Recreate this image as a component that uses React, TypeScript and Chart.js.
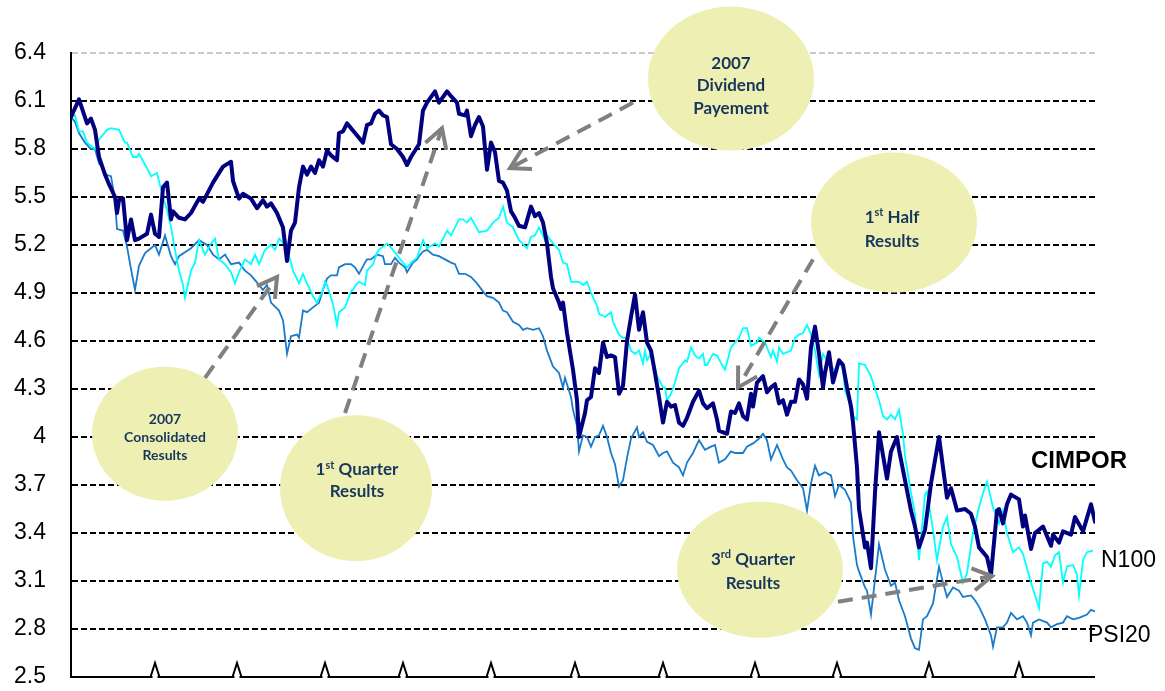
import { useEffect, useRef } from "react";
import { Chart, registerables } from "chart.js";

Chart.register(...registerables);

// ---------- DATA ----------
const yTicks = [2.5, 2.8, 3.1, 3.4, 3.7, 4, 4.3, 4.6, 4.9, 5.2, 5.5, 5.8, 6.1, 6.4];
// trading-day positions of the month separators on the x axis
const monthTickDays = [21, 41.5, 63.5, 83, 105, 126, 148, 171, 191.5, 214.5, 237];

const cimporDays = [
  0, 2, 4, 5, 6, 7, 8.5, 9.5, 11, 11.5,
  12, 13, 14, 15, 16, 17, 19, 20, 21, 22,
  23, 24, 25, 25.5, 27, 28.5, 30, 32, 33, 35.5,
  38, 40, 40.5, 42, 43, 45, 46.5, 48, 49, 50,
  51.5, 53, 54, 55, 56, 57, 58, 59, 60, 61,
  62, 63, 64, 65, 66.5, 67, 68, 69, 71, 73,
  74, 75, 76, 77, 78, 79, 80, 81.5, 83, 84,
  85, 87, 88, 89, 91, 92, 94, 95, 96.5, 97,
  98.5, 99, 100, 101, 102, 103, 104, 105, 106, 107,
  108, 109, 110, 111, 112, 113.5, 115, 116, 117, 118,
  119, 120, 120.5, 122, 122.5, 123, 124, 125.5, 126.5, 127,
  128.5, 129, 130, 131, 132, 133, 134, 135, 136, 137,
  138, 139, 140, 141, 142, 143, 144, 145, 146, 147,
  148, 149, 150, 151, 152, 153, 154, 155.5, 157, 158,
  159, 160.5, 161.5, 162, 164, 165, 166, 167, 168, 169,
  170, 170.5, 171.5, 173, 174, 175, 176, 177, 178, 179,
  180, 181, 182, 183, 184, 185, 186, 187, 188, 188.5,
  189.5, 190.5, 192, 193, 194, 195, 195.5, 196.5, 197, 198.5,
  199, 200, 201, 202, 204, 205, 206.5, 207, 210, 211,
  212, 213.5, 215, 217, 218, 219, 220, 221.5, 223.5, 225,
  226, 227, 229, 230, 231.5, 232, 233, 234, 235, 237,
  238, 238.5, 240, 241, 243, 245, 245.5, 247, 248, 250,
  251, 253, 255, 256,
];
const cimporValues = [
  6.0, 6.11, 5.96, 5.99, 5.92, 5.75, 5.64, 5.58, 5.5, 5.4,
  5.48, 5.49, 5.23, 5.36, 5.23, 5.24, 5.27, 5.39, 5.27, 5.25,
  5.56, 5.59, 5.36, 5.41, 5.37, 5.36, 5.4, 5.49, 5.47, 5.59,
  5.69, 5.72, 5.6, 5.49, 5.52, 5.49, 5.43, 5.48, 5.44, 5.46,
  5.4, 5.31, 5.1, 5.29, 5.34, 5.56, 5.69, 5.64, 5.69, 5.65,
  5.73, 5.69, 5.79, 5.76, 5.73, 5.9, 5.91, 5.96, 5.9, 5.84,
  5.95, 5.96, 6.02, 6.04, 6.01, 6.0, 5.83, 5.8, 5.75, 5.7,
  5.75, 5.83, 6.04, 6.09, 6.16, 6.09, 6.16, 6.13, 6.09, 6.02,
  6.01, 6.04, 5.88, 5.95, 6.0, 5.94, 5.67, 5.84, 5.78, 5.6,
  5.59, 5.54, 5.41, 5.37, 5.32, 5.31, 5.44, 5.38, 5.4, 5.34,
  5.21, 5.0, 4.93, 4.84, 4.8, 4.84, 4.65, 4.42, 4.23, 4.0,
  4.15, 4.23, 4.25, 4.43, 4.4, 4.59, 4.5, 4.51, 4.5, 4.27,
  4.32, 4.6, 4.75, 4.89, 4.67, 4.78, 4.59, 4.54, 4.4, 4.25,
  4.09, 4.22, 4.19, 4.2, 4.09, 4.07, 4.12, 4.22, 4.29, 4.21,
  4.18, 4.21, 4.11, 4.04, 4.02, 4.16, 4.15, 4.21, 4.13, 4.11,
  4.27, 4.19, 4.34, 4.38, 4.28, 4.31, 4.33, 4.21, 4.23, 4.14,
  4.22, 4.22, 4.36, 4.33, 4.24, 4.56, 4.69, 4.52, 4.31, 4.4,
  4.53, 4.34, 4.48, 4.45, 4.31, 4.19, 4.09, 3.81, 3.55, 3.31,
  3.34, 3.18, 3.65, 4.03, 3.74, 3.91, 4.0, 3.92, 3.54, 3.44,
  3.31, 3.42, 3.71, 4.0, 3.81, 3.62, 3.68, 3.54, 3.55, 3.52,
  3.44, 3.31, 3.25, 3.14, 3.54, 3.55, 3.46, 3.58, 3.64, 3.61,
  3.44, 3.51, 3.3, 3.4, 3.44, 3.32, 3.39, 3.34, 3.41, 3.39,
  3.5, 3.41, 3.58, 3.47,
];

const n100Days = [
  0, 1, 2, 3, 4, 6, 7, 9, 10, 12,
  13.5, 14, 15.5, 16.5, 17, 19, 20, 21.5, 23, 24,
  25, 26, 27, 28, 28.5, 30, 31, 32, 33.5, 35,
  36, 37, 38.5, 40, 41, 42, 43.5, 45, 46, 47,
  48.5, 50, 51, 52, 53.5, 55, 55.5, 57, 58, 59,
  60.5, 61.5, 63, 63.5, 64, 65.5, 66.5, 67, 68.5, 70,
  70.5, 71.5, 72, 73.5, 74, 75.5, 76.5, 77, 79, 80.5,
  82, 84, 85, 86.5, 88, 89, 91, 92, 94, 95,
  97, 98, 99, 100, 102, 104, 105.5, 107, 108, 109,
  110.5, 112, 114, 115, 116, 117, 118.5, 119, 120.5, 122,
  123, 124, 125, 127, 128, 129, 130, 131.5, 132, 133.5,
  135, 135.5, 137, 138, 139, 140, 141, 142, 143, 143.5,
  144, 145, 146.5, 148, 148.5, 149, 150, 151, 152, 153.5,
  154, 155, 156, 157, 158, 158.5, 159, 160.5, 161.5, 163,
  163.5, 165, 166, 167, 168, 169, 170, 171.5, 172, 173.5,
  175, 175.5, 176.5, 177, 178, 180, 181, 182, 183, 184,
  185, 186, 187, 188, 189, 190, 191, 192, 193, 193.5,
  195, 195.5, 196.5, 197, 198.5, 200, 201, 202, 203, 204,
  205, 206, 207, 208, 208.5, 210, 211, 212, 213.5, 214,
  215.5, 216.5, 218, 219, 220, 221.5, 223, 224, 225.5, 227,
  228, 229, 230.5, 232, 233, 234, 235.5, 237, 238, 239,
  240, 242, 243, 244, 245, 246, 247, 248, 249, 250.5,
  251.5, 252, 253, 254, 255.5,
];
const n100Values = [
  6.0, 6.01, 5.91, 5.91, 5.84, 5.8, 5.86, 5.92, 5.93, 5.92,
  5.84, 5.84, 5.75, 5.75, 5.77, 5.68, 5.63, 5.65, 5.5, 5.42,
  5.31, 5.17, 5.04, 4.95, 4.87, 5.04, 5.09, 5.23, 5.14, 5.21,
  5.24, 5.11, 5.08, 5.03, 4.96, 5.03, 5.11, 5.08, 5.14, 5.08,
  5.17, 5.2, 5.17, 5.24, 5.2, 5.09, 5.04, 4.96, 5.02, 4.96,
  4.88, 4.84, 4.92, 4.97, 4.95, 4.83, 4.7, 4.78, 4.81, 4.91,
  4.92, 4.96, 4.97, 4.95, 5.04, 5.08, 5.15, 5.17, 5.21, 5.17,
  5.12, 5.06, 5.09, 5.12, 5.23, 5.18, 5.21, 5.19, 5.29, 5.26,
  5.36, 5.36, 5.34, 5.37, 5.28, 5.29, 5.34, 5.37, 5.44, 5.34,
  5.31, 5.23, 5.18, 5.25, 5.26, 5.31, 5.23, 5.26, 5.21, 5.17,
  5.09, 5.08, 4.97, 4.97, 4.95, 4.97, 4.9, 4.82, 4.77, 4.75,
  4.78, 4.72, 4.64, 4.62, 4.62, 4.54, 4.52, 4.54, 4.46, 4.54,
  4.48, 4.52, 4.38, 4.31, 4.31, 4.23, 4.27, 4.34, 4.43, 4.48,
  4.47, 4.56, 4.51, 4.49, 4.52, 4.45, 4.45, 4.52, 4.51, 4.44,
  4.42, 4.56, 4.59, 4.62, 4.68, 4.68, 4.57, 4.59, 4.62, 4.59,
  4.5, 4.54, 4.47, 4.56, 4.52, 4.54, 4.62, 4.64, 4.65, 4.7,
  4.64, 4.54, 4.39, 4.52, 4.48, 4.45, 4.41, 4.48, 4.42, 4.29,
  4.19, 4.13, 4.11, 4.46, 4.45, 4.38, 4.3, 4.23, 4.13, 4.11,
  4.14, 4.11, 4.17, 4.02, 3.88, 3.65, 3.52, 3.23, 3.64, 3.66,
  3.42, 3.23, 3.44, 3.5, 3.33, 3.25, 3.09, 3.15, 3.4, 3.56,
  3.65, 3.72, 3.56, 3.46, 3.54, 3.4, 3.28, 3.31, 3.27, 3.18,
  3.09, 2.93, 3.21, 3.22, 3.19, 3.26, 3.28, 3.09, 3.19, 3.2,
  3.14, 3.01, 3.23, 3.28, 3.29,
];

const psi20Days = [
  0, 1, 2, 3.5, 5, 6, 7, 8, 8.5, 10,
  11, 11.5, 13, 14, 15, 16, 17, 18.5, 20, 21,
  22, 23.5, 25, 26, 27, 30, 32, 34, 35.5, 37,
  38.5, 40, 42, 43.5, 45, 46, 48, 49, 50, 52,
  53, 54, 55, 56.5, 57, 58, 59, 60.5, 62, 63,
  64, 65, 66.5, 67, 68.5, 70, 71, 72, 73.5, 74,
  75, 76.5, 78, 78.5, 80, 81, 82, 83.5, 84, 85.5,
  86.5, 87, 88, 89, 90.5, 92, 93.5, 95, 96, 97,
  98.5, 100, 101.5, 103, 104, 105.5, 107, 108, 109, 110.5,
  112, 113, 114, 115.5, 117, 118, 119, 120.5, 122, 123,
  123.5, 125, 125.5, 126.5, 127, 128, 129, 130, 131, 132,
  133, 134, 135, 136, 137, 138, 139, 140, 141.5, 142,
  143, 144, 145.5, 147, 148, 149, 150.5, 152, 153, 154,
  155.5, 157, 158.5, 160, 161, 162, 163.5, 165, 166, 168,
  169, 170.5, 172, 173, 174, 175, 176.5, 178, 179, 180,
  181.5, 183, 184, 185, 186, 187, 188.5, 190, 191, 192,
  193.5, 195, 195.5, 196.5, 197, 198.5, 199, 200, 201, 202,
  203.5, 205, 206, 207, 208.5, 210, 211, 212, 213, 214,
  215.5, 217, 218, 219, 220.5, 222, 223, 225, 226, 227,
  228.5, 230, 230.5, 231.5, 233, 234, 235, 236.5, 238, 239,
  240, 240.5, 242, 244, 245, 246.5, 248, 249, 250.5, 252,
  254, 255, 256,
];
const psi20Values = [
  6.0, 5.97, 5.9, 5.84, 5.8, 5.8, 5.71, 5.68, 5.64, 5.63,
  5.48, 5.3, 5.29, 5.19, 5.05, 4.92, 5.07, 5.15, 5.18, 5.2,
  5.14, 5.26, 5.13, 5.08, 5.13, 5.18, 5.23, 5.2, 5.14, 5.11,
  5.14, 5.08, 5.09, 5.04, 5.01, 4.98, 4.92, 4.95, 4.84, 4.79,
  4.73, 4.52, 4.63, 4.64, 4.62, 4.79, 4.78, 4.81, 4.84, 4.92,
  4.99, 5.01, 5.01, 5.06, 5.08, 5.08, 5.06, 5.02, 5.09, 5.11,
  5.11, 5.14, 5.13, 5.08, 5.08, 5.12, 5.09, 5.06, 5.03, 5.09,
  5.11, 5.13, 5.16, 5.17, 5.14, 5.13, 5.11, 5.09, 5.08, 5.02,
  5.02, 5.0, 4.96, 4.91, 4.88, 4.87, 4.84, 4.79, 4.78, 4.72,
  4.7, 4.67, 4.68, 4.67, 4.68, 4.63, 4.54, 4.44, 4.4, 4.31,
  4.37, 4.25, 4.17, 4.07, 3.91, 4.01, 4.0, 3.94, 4.0, 4.01,
  4.07, 4.0, 3.9, 3.83, 3.69, 3.73, 3.87, 3.99, 4.06, 4.0,
  4.03, 3.97, 3.95, 3.88, 3.9, 3.91, 3.84, 3.81, 3.76, 3.84,
  3.9, 3.98, 3.92, 3.94, 3.95, 3.84, 3.86, 3.91, 3.9, 3.9,
  3.94, 3.96, 3.99, 4.02, 3.98, 3.86, 3.95, 3.86, 3.81, 3.79,
  3.73, 3.68, 3.54, 3.71, 3.82, 3.76, 3.78, 3.76, 3.63, 3.7,
  3.67, 3.59, 3.38, 3.2, 3.16, 3.06, 3.04, 2.89, 3.11, 3.33,
  3.17, 3.07, 3.09, 2.98, 2.88, 2.74, 2.68, 2.67, 2.86, 2.88,
  2.96, 3.19, 3.09, 3.0, 3.06, 3.04, 3.0, 3.01, 2.98, 2.94,
  2.86, 2.76, 2.69, 2.81, 2.81, 2.84, 2.9, 2.86, 2.88, 2.84,
  2.76, 2.84, 2.86, 2.84, 2.81, 2.83, 2.84, 2.88, 2.86, 2.87,
  2.89, 2.92, 2.91,
];

// ---------- ANNOTATIONS ----------
type Part = { t: string; sup?: boolean };
type Bubble = {
  day: number; value: number; rx: number; ry: number; font: number;
  firstBaseline: number; lineGap: number; textDx: number; lines: Part[][];
};

const bubbles: Bubble[] = [
  { day: 165, value: 6.24, rx: 83, ry: 72, font: 17, firstBaseline: -10, lineGap: 22.5, textDx: 0,
    lines: [[{ t: "2007" }], [{ t: "Dividend" }], [{ t: "Payement" }]] },
  { day: 205.75, value: 5.34, rx: 83, ry: 70, font: 17, firstBaseline: 0, lineGap: 24, textDx: -2,
    lines: [[{ t: "1" }, { t: "st", sup: true }, { t: " Half" }], [{ t: "Results" }]] },
  { day: 23.5, value: 4.02, rx: 73, ry: 67, font: 14, firstBaseline: -10, lineGap: 18, textDx: 0,
    lines: [[{ t: "2007" }], [{ t: "Consolidated" }], [{ t: "Results" }]] },
  { day: 71.25, value: 3.68, rx: 76, ry: 73, font: 17, firstBaseline: -13, lineGap: 22, textDx: 1,
    lines: [[{ t: "1" }, { t: "st", sup: true }, { t: " Quarter" }], [{ t: "Results" }]] },
  { day: 172.25, value: 3.17, rx: 83, ry: 68, font: 17, firstBaseline: -5, lineGap: 24, textDx: -7,
    lines: [[{ t: "3" }, { t: "rd", sup: true }, { t: " Quarter" }], [{ t: "Results" }]] },
];

const arrows = [
  { from: [140.5, 6.09], to: [109.75, 5.68] },
  { from: [68.5, 4.15], to: [92.75, 5.93] },
  { from: [33.5, 4.37], to: [51.5, 5.0] },
  { from: [185.5, 5.11], to: [166.75, 4.31] },
  { from: [191.75, 2.97], to: [230.25, 3.13] },
];

const COLORS = {
  cimpor: "#000080",
  n100: "#00FFFF",
  psi20: "#1A7BCB",
  bubble: "#EEF0B3",
  bubbleText: "#17365D",
  arrow: "#808080",
};

const toPoints = (days: number[], values: number[]) =>
  days.map((d, i) => ({ x: d, y: values[i] }));

function drawRich(ctx: CanvasRenderingContext2D, parts: Part[], cx: number, baseline: number, size: number) {
  const fam = 'Lato, "Open Sans", "Noto Sans", sans-serif';
  const main = `bold ${size}px ${fam}`;
  const sup = `bold ${Math.round(size * 0.62)}px ${fam}`;
  let total = 0;
  const widths = parts.map((p) => {
    ctx.font = p.sup ? sup : main;
    const w = ctx.measureText(p.t).width;
    total += w;
    return w;
  });
  let x = cx - total / 2;
  parts.forEach((p, i) => {
    ctx.font = p.sup ? sup : main;
    ctx.fillText(p.t, x, p.sup ? baseline - size * 0.38 : baseline);
    x += widths[i];
  });
}

const annotationPlugin = {
  id: "annotations",
  beforeDatasetsDraw(chart: any) {
    // x axis base line (drawn manually; the x scale itself is hidden)
    const { ctx, chartArea } = chart;
    ctx.save();
    ctx.strokeStyle = "#000";
    ctx.lineWidth = 2;
    ctx.beginPath();
    ctx.moveTo(chartArea.left - 1, chartArea.bottom);
    ctx.lineTo(chartArea.right, chartArea.bottom);
    ctx.stroke();
    ctx.restore();
  },
  afterDatasetsDraw(chart: any) {
    const { ctx, chartArea } = chart;
    const xs = chart.scales.x;
    const ys = chart.scales.y;
    ctx.save();
    // bubbles
    for (const b of bubbles) {
      const cx = xs.getPixelForValue(b.day);
      const cy = ys.getPixelForValue(b.value);
      ctx.beginPath();
      ctx.ellipse(cx, cy, b.rx, b.ry, 0, 0, Math.PI * 2);
      ctx.fillStyle = COLORS.bubble;
      ctx.fill();
      ctx.fillStyle = COLORS.bubbleText;
      ctx.textAlign = "left";
      ctx.textBaseline = "alphabetic";
      b.lines.forEach((line, i) =>
        drawRich(ctx, line, cx + b.textDx, cy + b.firstBaseline + i * b.lineGap, b.font)
      );
    }
    // arrows
    ctx.strokeStyle = COLORS.arrow;
    ctx.lineWidth = 4;
    for (const a of arrows) {
      const x1 = xs.getPixelForValue(a.from[0]);
      const y1 = ys.getPixelForValue(a.from[1]);
      const x2 = xs.getPixelForValue(a.to[0]);
      const y2 = ys.getPixelForValue(a.to[1]);
      ctx.setLineDash([15, 9]);
      ctx.lineCap = "butt";
      ctx.beginPath();
      ctx.moveTo(x1, y1);
      ctx.lineTo(x2, y2);
      ctx.stroke();
      const ang = Math.atan2(y1 - y2, x1 - x2);
      const L = 22;
      const h = Math.PI / 6;
      ctx.setLineDash([]);
      ctx.lineJoin = "miter";
      ctx.beginPath();
      ctx.moveTo(x2 + L * Math.cos(ang + h), y2 + L * Math.sin(ang + h));
      ctx.lineTo(x2, y2);
      ctx.lineTo(x2 + L * Math.cos(ang - h), y2 + L * Math.sin(ang - h));
      ctx.stroke();
    }
    // series labels
    ctx.fillStyle = "#000";
    ctx.textBaseline = "middle";
    ctx.font = 'bold 24px "Liberation Sans", Arial, sans-serif';
    ctx.textAlign = "center";
    ctx.fillText("CIMPOR", chartArea.right - 16, ys.getPixelForValue(3.85));
    ctx.font = '23px "Liberation Sans", Arial, sans-serif';
    ctx.textAlign = "left";
    ctx.fillText("N100", chartArea.right + 6, ys.getPixelForValue(3.23));
    ctx.fillText("PSI20", chartArea.right - 7, ys.getPixelForValue(2.76));
    ctx.restore();
  },
  afterDraw(chart: any) {
    const { ctx, chartArea } = chart;
    const xs = chart.scales.x;
    const base = chartArea.bottom;
    ctx.save();
    for (const d of monthTickDays) {
      const px = xs.getPixelForValue(d);
      ctx.strokeStyle = "#fff";
      ctx.lineWidth = 3;
      ctx.beginPath();
      ctx.moveTo(px - 2.5, base);
      ctx.lineTo(px + 2.5, base);
      ctx.stroke();
      ctx.strokeStyle = "#000";
      ctx.lineWidth = 2;
      ctx.lineJoin = "miter";
      ctx.beginPath();
      ctx.moveTo(px - 4.5, base);
      ctx.lineTo(px, base - 14);
      ctx.lineTo(px + 4.5, base);
      ctx.stroke();
    }
    ctx.restore();
  },
};

export default function App() {
  const canvasRef = useRef<HTMLCanvasElement | null>(null);

  useEffect(() => {
    document.body.style.margin = "0";
    const canvas = canvasRef.current;
    if (!canvas) return;
    const chart = new Chart(canvas, {
      type: "line",
      data: {
        datasets: [
          {
            label: "CIMPOR",
            data: toPoints(cimporDays, cimporValues),
            borderColor: COLORS.cimpor,
            borderWidth: 4,
            pointRadius: 0,
            tension: 0,
            borderJoinStyle: "round",
            borderCapStyle: "round",
          },
          {
            label: "N100",
            data: toPoints(n100Days, n100Values),
            borderColor: COLORS.n100,
            borderWidth: 1.8,
            pointRadius: 0,
            tension: 0,
          },
          {
            label: "PSI20",
            data: toPoints(psi20Days, psi20Values),
            borderColor: COLORS.psi20,
            borderWidth: 1.8,
            pointRadius: 0,
            tension: 0,
          },
        ],
      },
      options: {
        animation: false,
        responsive: false,
        devicePixelRatio: 1,
        layout: { padding: { left: 0, right: 70, top: 53, bottom: 14 } },
        plugins: { legend: { display: false }, tooltip: { enabled: false } },
        scales: {
          x: {
            type: "linear",
            display: false,
            min: 0,
            max: 256,
          },
          y: {
            min: 2.5,
            max: 6.4,
            afterBuildTicks: (s: any) => {
              s.ticks = yTicks.map((v) => ({ value: v }));
            },
            ticks: {
              padding: 25,
              color: "#000",
              font: { family: '"Liberation Sans", Arial, sans-serif', size: 23 },
              callback: (v: any) => String(Number(Number(v).toFixed(1))),
            },
            grid: {
              drawTicks: false,
              lineWidth: 2,
              color: (c: any) => {
                const v = c.tick ? Number(c.tick.value.toFixed(1)) : 0;
                if (v === 6.4) return "#c8c8c8";
                if (v === 2.5) return "rgba(0,0,0,0)";
                return "#000";
              },
            },
            border: { display: true, color: "#000", width: 2, dash: [6, 3] },
            afterFit: (s: any) => {
              s.width = 71;
              s.paddingTop = 0;
              s.paddingBottom = 0;
            },
          },
        },
      },
      plugins: [annotationPlugin],
    } as any);
    return () => chart.destroy();
  }, []);

  return (
    <div style={{ width: 1165, height: 691, position: "relative" }}>
      <canvas ref={canvasRef} width={1165} height={691} />
    </div>
  );
}
